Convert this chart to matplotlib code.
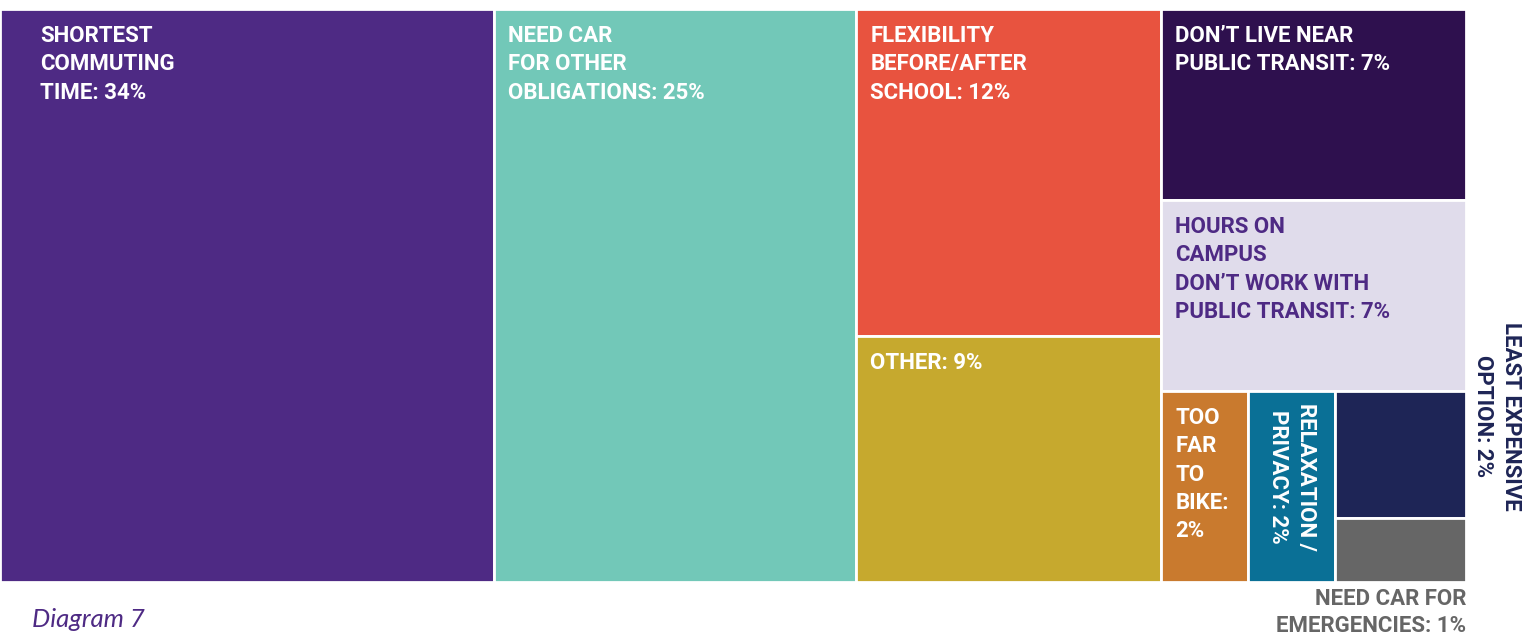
import matplotlib.pyplot as plt
from matplotlib.patches import Rectangle

# survey answers and their shares (%)
labels = [
    "SHORTEST\nCOMMUTING\nTIME: 34%",
    "NEED CAR\nFOR OTHER\nOBLIGATIONS: 25%",
    "FLEXIBILITY\nBEFORE/AFTER\nSCHOOL: 12%",
    "OTHER: 9%",
    "DON\u2019T LIVE NEAR\nPUBLIC TRANSIT: 7%",
    "HOURS ON\nCAMPUS\nDON\u2019T WORK WITH\nPUBLIC TRANSIT: 7%",
    "TOO\nFAR\nTO\nBIKE:\n2%",
    "RELAXATION /\nPRIVACY: 2%",
    "LEAST EXPENSIVE\nOPTION: 2%",
    "NEED CAR FOR\nEMERGENCIES: 1%",
]
values = [34, 25, 12, 9, 7, 7, 2, 2, 2, 1]
colors = ["#4e2a84", "#72c8b8", "#e8533f", "#c6a92e", "#2e104e",
          "#e0dceb", "#c97a2e", "#0a7096", "#1e2556", "#666666"]
text_colors = ["white"] * 5 + ["#4e2a84"] + ["white"] * 4

# nesting of the treemap: columns, then rows, then columns...
tree = [0, 1, [2, 3], [4, 5, [6, 7, [8, 9]]]]


def total(node):
    if isinstance(node, int):
        return values[node]
    return sum(total(c) for c in node)


def split(node, x, y, w, h, horizontal, out):
    if isinstance(node, int):
        out[node] = (x, y, w, h)
        return
    t = total(node)
    for child in node:
        frac = total(child) / t
        if horizontal:
            split(child, x, y, w * frac, h, False, out)
            x += w * frac
        else:
            split(child, x, y, w, h * frac, True, out)
            y += h * frac


fig = plt.figure(figsize=(15.39, 6.37), dpi=100)
ax = fig.add_axes([0, 0, 1, 1])
ax.set_xlim(0, 1539)
ax.set_ylim(637, 0)
ax.axis("off")

boxes = {}
split(tree, 0, 9, 1466, 573, True, boxes)

font = dict(family="Roboto", fontweight="bold", fontsize=16, linespacing=1.37)

for i, (x, y, w, h) in boxes.items():
    ax.add_patch(Rectangle((x, y), w, h, facecolor=colors[i],
                           edgecolor="white", linewidth=2))
    if i in (8, 9):
        continue
    if i == 7:
        ax.text(x + w / 2, y + 12, labels[i], rotation=-90, color=text_colors[i],
                ha="center", va="top", **font)
        continue
    pad = 40 if i == 0 else 14
    ax.text(x + pad, y + 16, labels[i], color=text_colors[i],
            ha="left", va="top", **font)

# labels of the two smallest boxes sit outside the map
x, y, w, h = boxes[8]
ax.text(x + w + 31, 322, labels[8], rotation=-90, color=colors[8],
        ha="center", va="top", **font)
x, y, w, h = boxes[9]
ax.text(x + w, y + h + 6, labels[9], color=colors[9],
        ha="right", va="top", multialignment="right",
        **{**font, "linespacing": 1.28})

ax.text(32, 627, "Diagram 7", family="Lato", style="italic",
        fontsize=18.5, color="#4e2a84", ha="left", va="baseline")

fig.savefig("out.png", dpi=100)
